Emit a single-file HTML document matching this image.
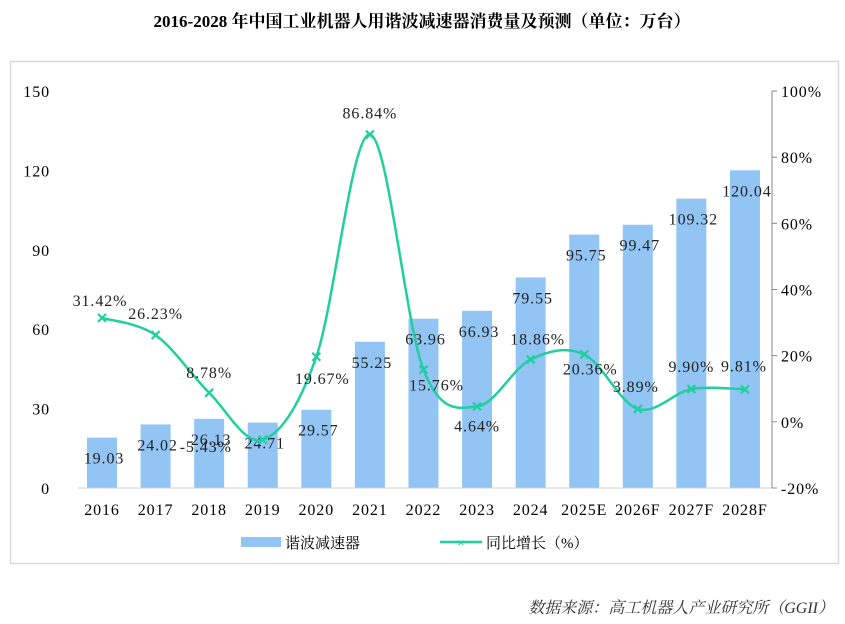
<!DOCTYPE html>
<html><head><meta charset="utf-8">
<style>
body{margin:0;background:#fff;}
svg{display:block;font-family:"Liberation Serif","Noto Serif CJK SC",serif;}
.num{letter-spacing:0.9px;}
</style></head>
<body>
<svg width="845" height="624" viewBox="0 0 845 624" xmlns="http://www.w3.org/2000/svg">
<text x="422" y="27" text-anchor="middle" font-size="17" font-weight="bold" fill="#000">2016-2028 年中国工业机器人用谐波减速器消费量及预测（单位：万台）</text>
<rect x="10.5" y="61.5" width="828" height="502" fill="#fff" stroke="#d9d9d9" stroke-width="1.5"/>
<g id="leftAxis"></g>
<g id="rightAxis"></g>
<g id="bars"></g>
<g id="line"></g>
<g id="xAxis"></g>
<g>
<rect x="241" y="537" width="40" height="10" fill="#92c4f4"/>
<text x="285" y="548" font-size="15">谐波减速器</text>
<line x1="440" y1="542" x2="482" y2="542" stroke="#1fcf9f" stroke-width="2.5"/>
<text x="461" y="547" font-size="13" text-anchor="middle" fill="#1fcf9f" font-weight="bold">×</text>
<text x="486" y="548" font-size="15">同比增长（%）</text>
</g>
<text x="834" y="613" text-anchor="end" font-size="16" font-style="italic" fill="#333">数据来源：高工机器人产业研究所（GGII）</text>
</svg>
<script>
const categories=["2016","2017","2018","2019","2020","2021","2022","2023","2024","2025E","2026F","2027F","2028F"];
const volumes=[19.03,24.02,26.13,24.71,29.57,55.25,63.96,66.93,79.55,95.75,99.47,109.32,120.04];
const volumeLabels=["19.03","24.02","26.13","24.71","29.57","55.25","63.96","66.93","79.55","95.75","99.47","109.32","120.04"];
const growth=[31.42,26.23,8.78,-5.43,19.67,86.84,15.76,4.64,18.86,20.36,3.89,9.90,9.81];
const growthLabels=["31.42%","26.23%","8.78%","-5.43%","19.67%","86.84%","15.76%","4.64%","18.86%","20.36%","3.89%","9.90%","9.81%"];
const leftTicks=[0,30,60,90,120,150];
const rightTicks=[-20,0,20,40,60,80,100];
const labelOffX=[-2,0,0,-57,6,0,13,0,7,6,-2,0,-1];
const labelOffY=[-17,-21,-20,7,22,-21,16,20,-20,15,-22,-22,-23];

const NS="http://www.w3.org/2000/svg";
function mk(t,a,p){const e=document.createElementNS(NS,t);for(const k in a)e.setAttribute(k,a[k]);p.appendChild(e);return e;}
const x0=102,step=53.58,plotL=78,plotR=772,yTop=91,yBot=488;
const xs=i=>x0+i*step;
const yL=v=>yBot-(v/150)*(yBot-yTop);
const yR=v=>yBot-((v+20)/120)*(yBot-yTop);

const la=document.getElementById('leftAxis');
leftTicks.forEach(t=>{const e=mk('text',{x:50,y:yL(t)+6,'text-anchor':'end','font-size':16,class:'num'},la);e.textContent=t;

});
const ra=document.getElementById('rightAxis');
const ax=mk('line',{x1:plotR,y1:yTop,x2:plotR,y2:yBot,stroke:'#888','stroke-width':1},ra);


rightTicks.forEach(t=>{const y=yR(t);const l=mk('line',{x1:plotR,y1:y,x2:plotR+5,y2:y,stroke:'#888'},ra);


const e=mk('text',{x:781,y:y+6,'font-size':16,class:'num'},ra);e.textContent=t+'%';

});

const bg=document.getElementById('bars');
volumes.forEach((v,i)=>{const top=yL(v);
const r=mk('rect',{x:xs(i)-15,y:top,width:30,height:yBot-top,fill:'#92c4f4'},bg);


const ly=Math.min((top+yBot)/2,top+20)+6;
const t=mk('text',{x:xs(i)+2,y:ly,'text-anchor':'middle','font-size':16,fill:'#222',class:'num'},bg);t.textContent=volumeLabels[i];

});

const xa=document.getElementById('xAxis');
const bl=mk('line',{x1:plotL,y1:yBot,x2:plotR,y2:yBot,stroke:'#d0d0d0'},xa);


categories.forEach((c,i)=>{const t=mk('text',{x:xs(i),y:515,'text-anchor':'middle','font-size':16,class:'num'},xa);t.textContent=c;

});

const lg=document.getElementById('line');
const pts=growth.map((g,i)=>[xs(i),yR(g)]);
let d='M'+pts[0][0]+','+pts[0][1];
for(let i=0;i<pts.length-1;i++){const p0=pts[Math.max(0,i-1)],p1=pts[i],p2=pts[i+1],p3=pts[Math.min(pts.length-1,i+2)];
const c1=[p1[0]+(p2[0]-p0[0])/6,p1[1]+(p2[1]-p0[1])/6],c2=[p2[0]-(p3[0]-p1[0])/6,p2[1]-(p3[1]-p1[1])/6];
d+=' C'+c1+' '+c2+' '+p2;}
const path=mk('path',{d:d,fill:'none',stroke:'#1fcf9f','stroke-width':2.5},lg);


pts.forEach((p,i)=>{const s=4;
const m=mk('path',{d:`M${p[0]-s},${p[1]-s}L${p[0]+s},${p[1]+s}M${p[0]+s},${p[1]-s}L${p[0]-s},${p[1]+s}`,stroke:'#1fcf9f','stroke-width':2.2},lg);


const t=mk('text',{x:p[0]+labelOffX[i],y:p[1]+labelOffY[i]+5,'text-anchor':'middle','font-size':16,fill:'#222',class:'num'},lg);t.textContent=growthLabels[i];

});
</script>
</body></html>
